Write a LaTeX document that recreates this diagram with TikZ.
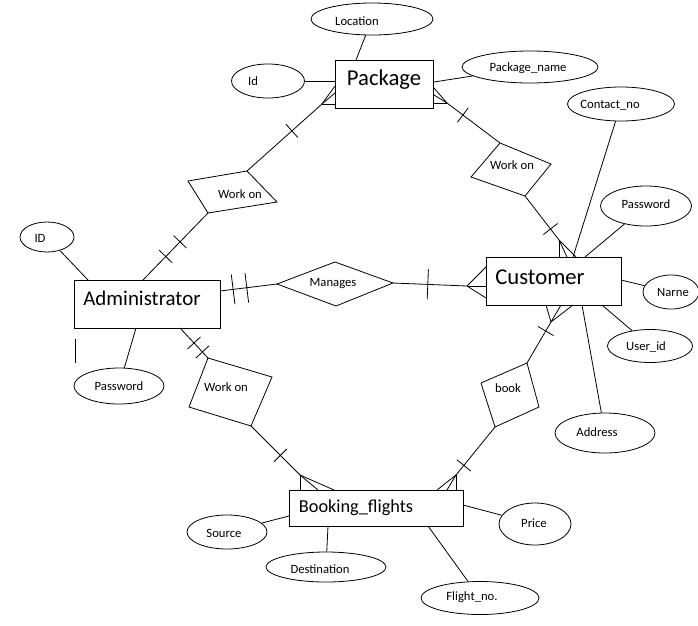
\documentclass[tikz,border=0pt]{standalone}
\usepackage{fontspec}
\setmainfont{Carlito}
\usetikzlibrary{shapes.geometric,decorations.markings}

\tikzset{
  attr/.style 2 args={draw, ellipse, minimum width=#1*0.75pt, minimum height=#2*0.75pt, inner sep=0pt},
  ent/.style 2 args={draw, rectangle, minimum width=#1*0.75pt, minimum height=#2*0.75pt, inner sep=0pt, line width=0.75pt},
  lbl/.style={font=\fontsize{9.5}{11}\selectfont, inner sep=0pt},
  tick/.style={postaction={decorate, decoration={markings, mark=at position #1 with {\draw (0,-9) -- (0,9);}}}},
  bar/.style={postaction={decorate, decoration={markings, mark=at position #1 with {\draw (0,-15) -- (0,15);}}}},
}

\begin{document}
\begin{tikzpicture}[x=0.75pt, y=-0.75pt, line width=0.6pt]
    \useasboundingbox (0,0) rectangle (698,625);

    % entities
    \node[ent={98}{48}] (pkg) at (384,84) {};
    \node[font=\fontsize{17}{20}\selectfont] (pkg-t) at (384,80) {Package};
    \node[ent={135}{48}] (cust) at (553.5,281) {};
    \node[font=\fontsize{17}{20}\selectfont] (cust-t) at (540,277) {Customer};
    \node[ent={146}{48}] (adm) at (147,304) {};
    \node[font=\fontsize{15.7}{19}\selectfont] (adm-t) at (142,298) {Administrator};
    \node[ent={174}{36}] (bkg) at (376,508) {};
    \node[font=\fontsize{13.7}{16}\selectfont] (bkg-t) at (356,508) {Booking\_flights};

    % attributes
    \node[attr={122}{32}] (loc) at (372,19) {};
    \node[lbl] (loc-t) at (357,21) {Location};
    \node[attr={73}{34}] (pid) at (268,81) {};
    \node[lbl] (pid-t) at (253,81) {Id};
    \node[attr={136}{32}] (pname) at (530,67) {};
    \node[lbl] (pname-t) at (528,68) {Package\_name};
    \node[attr={107}{34}] (cno) at (621,104) {};
    \node[lbl] (cno-t) at (610,105) {Contact\_no};
    \node[attr={91}{40}] (cpwd) at (646,206) {};
    \node[lbl] (cpwd-t) at (646,204) {Password};
    \node[attr={56}{34}] (cname) at (671,292) {};
    \node[lbl] (cname-t) at (673,292) {Narne};
    \node[attr={85}{33}] (uid) at (650,346) {};
    \node[lbl] (uid-t) at (646,347) {User\_id};
    \node[attr={100}{40}] (addr) at (605,433) {};
    \node[lbl] (addr-t) at (597,432) {Address};
    \node[attr={54}{30}] (aid) at (47,237) {};
    \node[lbl] (aid-t) at (40,238) {ID};
    \node[attr={90}{36}] (apwd) at (119,386) {};
    \node[lbl] (apwd-t) at (119,386) {Password};
    \node[attr={80}{34}] (src) at (227,532) {};
    \node[lbl] (src-t) at (224,533) {Source};
    \node[attr={120}{30}] (dst) at (326,567) {};
    \node[lbl] (dst-t) at (320,569) {Destination};
    \node[attr={72}{42}] (price) at (535,524) {};
    \node[lbl] (price-t) at (534,523) {Price};
    \node[attr={118}{33}] (fno) at (480,598) {};
    \node[lbl] (fno-t) at (472,597) {Flight\_no.};

    % points on the entity edges
    \coordinate (pkg-loc) at (356,60);
    \coordinate (pkg-id) at (335,81);
    \coordinate (pkg-name) at (434,82);
    \coordinate (cust-cno) at (573,257);
    \coordinate (cust-pwd) at (585,257);
    \coordinate (cust-name) at (621,280);
    \coordinate (cust-uid) at (602,305);
    \coordinate (cust-addr) at (582,305);
    \coordinate (adm-id) at (88,280);
    \coordinate (adm-pwd) at (136,328);
    \coordinate (bkg-src) at (289,516);
    \coordinate (bkg-dst) at (328,526);
    \coordinate (bkg-price) at (463,505);
    \coordinate (bkg-fno) at (428,526);

    \draw (loc) -- (pkg-loc);
    \draw (pid) -- (pkg-id);
    \draw (pname) -- (pkg-name);
    \draw (cno) -- (cust-cno);
    \draw (cpwd) -- (cust-pwd);
    \draw (cname) -- (cust-name);
    \draw (uid) -- (cust-uid);
    \draw (addr) -- (cust-addr);
    \draw (aid) -- (adm-id);
    \draw (apwd) -- (adm-pwd);
    \draw (src) -- (bkg-src);
    \draw (dst) -- (bkg-dst);
    \draw (price) -- (bkg-price);
    \draw (fno) -- (bkg-fno);
    \draw (75,339) -- (75,363);

    % relationships
    \coordinate (w1t) at (247,171);
    \coordinate (w1r) at (277,202);
    \coordinate (w1b) at (208,213);
    \coordinate (w1l) at (188,181);
    \draw (w1t) -- (w1r) -- (w1b) -- (w1l) -- cycle;
    \node[lbl] (w1-t) at (240,194) {Work on};

    \coordinate (w2t) at (500,143);
    \coordinate (w2r) at (551,164);
    \coordinate (w2b) at (525,196);
    \coordinate (w2l) at (471,177);
    \draw (w2t) -- (w2r) -- (w2b) -- (w2l) -- cycle;
    \node[lbl] (w2-t) at (512,165) {Work on};

    \coordinate (mgl) at (277,284);
    \coordinate (mgt) at (335,262);
    \coordinate (mgr) at (393,283);
    \coordinate (mgb) at (336,306);
    \draw (mgl) -- (mgt) -- (mgr) -- (mgb) -- cycle;
    \node[lbl] (mg-t) at (333,284) {Manages};

    \coordinate (w3t) at (208,358);
    \coordinate (w3r) at (272,377);
    \coordinate (w3b) at (251,426);
    \coordinate (w3l) at (189,407);
    \draw (w3t) -- (w3r) -- (w3b) -- (w3l) -- cycle;
    \node[lbl] (w3-t) at (226,387) {Work on};

    \coordinate (bkt) at (527,363);
    \coordinate (bkr) at (539,407);
    \coordinate (bkb) at (495,427);
    \coordinate (bkl) at (481,383);
    \draw (bkt) -- (bkr) -- (bkb) -- (bkl) -- cycle;
    \node[lbl] (bk-t) at (508,388) {book};

    % connectors, with crow's feet
    \coordinate (adm-w1) at (143,280);
    \draw[tick=0.35, tick=0.57] (adm-w1) -- (w1b);
    \coordinate (pkg-w1) at (322,104);
    \draw[tick=0.6] (w1t) -- (pkg-w1);
    \foreach \p in {(335,86),(335,93),(335,104)} \draw (pkg-w1) -- \p;

    \coordinate (pkg-w2) at (447,103);
    \draw[tick=0.3] (pkg-w2) -- (w2t);
    \foreach \p in {(434,88),(434,95),(434,103)} \draw (pkg-w2) -- \p;
    \coordinate (cust-w2) at (559,240);
    \draw[tick=0.75] (w2b) -- (cust-w2);
    \foreach \p in {(559,257),(567,257),(576,257)} \draw (cust-w2) -- \p;

    \coordinate (adm-mg) at (220,291);
    \draw[bar=0.23, bar=0.47] (adm-mg) -- (mgl);
    \coordinate (cust-mg) at (467,286);
    \draw[bar=0.47] (mgr) -- (cust-mg);
    \foreach \p in {(486,267),(486,286),(486,298)} \draw (cust-mg) -- \p;

    \coordinate (adm-w3) at (180,328);
    \draw[tick=0.5, tick=0.8] (adm-w3) -- (w3t);
    \coordinate (bkg-w3) at (300,475);
    \draw[tick=0.6] (w3b) -- (bkg-w3);
    \foreach \p in {(300,490),(318,490),(334,490)} \draw (bkg-w3) -- \p;

    \coordinate (cust-bk) at (551,322);
    \draw[tick=0.22] (cust-bk) -- (bkt);
    \foreach \p in {(546,305),(561,305),(573,305)} \draw (cust-bk) -- \p;
    \coordinate (bkg-bk) at (456,475);
    \draw[tick=0.8] (bkb) -- (bkg-bk);
    \foreach \p in {(456,490),(447,490),(437,490)} \draw (bkg-bk) -- \p;

\end{tikzpicture}
\end{document}
